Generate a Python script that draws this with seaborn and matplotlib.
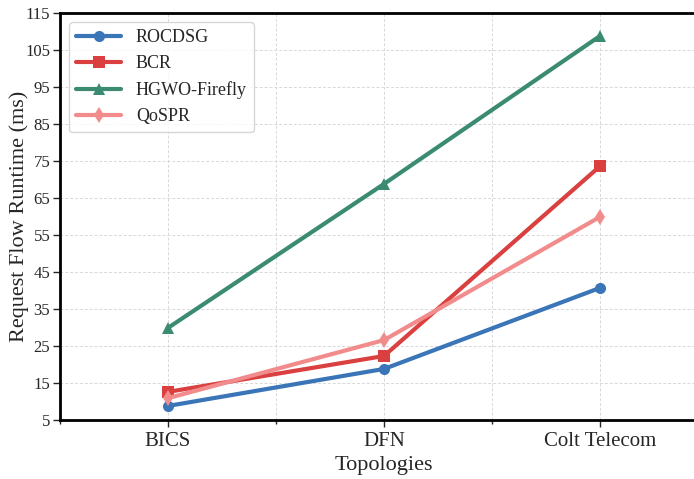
import pandas as pd
import matplotlib.pyplot as plt
import seaborn as sns
from matplotlib.ticker import MultipleLocator

sns.set_style("whitegrid")
plt.rcParams["font.family"] = ["Liberation Serif", "DejaVu Serif"]

# data
topologias = ["BICS", "DFN", "Colt Telecom"]
rocdsg = [8.8, 18.8, 40.7]
bcr = [12.6, 22.3, 73.6]
hgwo = [29.9, 68.8, 108.8]
qospr = [10.9, 26.6, 59.9]

series = {
    "ROCDSG": (rocdsg, "#3a75b7", "o"),
    "BCR": (bcr, "#d9403f", "s"),
    "HGWO-Firefly": (hgwo, "#3b8b73", "^"),
    "QoSPR": (qospr, "#f28c8c", "d"),
}

fig = plt.figure(figsize=(6.94, 4.79), dpi=100)
ax = fig.add_axes([60 / 694, 1 - 420 / 479, 648 / 694, 407 / 479])

for nome, (valores, cor, marcador) in series.items():
    df = pd.DataFrame({"x": range(len(topologias)), "y": valores})
    sns.lineplot(x="x", y="y", data=df, ax=ax, color=cor, marker=marcador,
                 markersize=8, linewidth=3, markeredgewidth=0, label=nome)

ax.set_xlim(-0.5, 2.5)
ax.set_ylim(5, 115)
ax.set_xticks(range(len(topologias)))
ax.set_xticklabels(topologias, fontsize=15)
ax.xaxis.set_minor_locator(MultipleLocator(0.5))
ax.set_yticks(range(5, 116, 10))
ax.tick_params(axis="y", labelsize=12, pad=2)
ax.tick_params(axis="both", which="both", bottom=True, left=True, length=5, width=1)
ax.tick_params(axis="x", which="minor", length=3)

ax.grid(True, which="both", linestyle=(0, (3, 2)), color="#d8d8d8", linewidth=0.7)
ax.set_xlabel("Topologies", fontsize=16, labelpad=4)
ax.set_ylabel("Request Flow Runtime (ms)", fontsize=16)
ax.yaxis.set_label_coords(-0.048, 0.5)

for lado in ax.spines.values():
    lado.set_color("black")
    lado.set_linewidth(2)

ax.legend(loc="upper left", fontsize=13, frameon=True, handlelength=2.5)

plt.savefig("out.png", dpi=100)
